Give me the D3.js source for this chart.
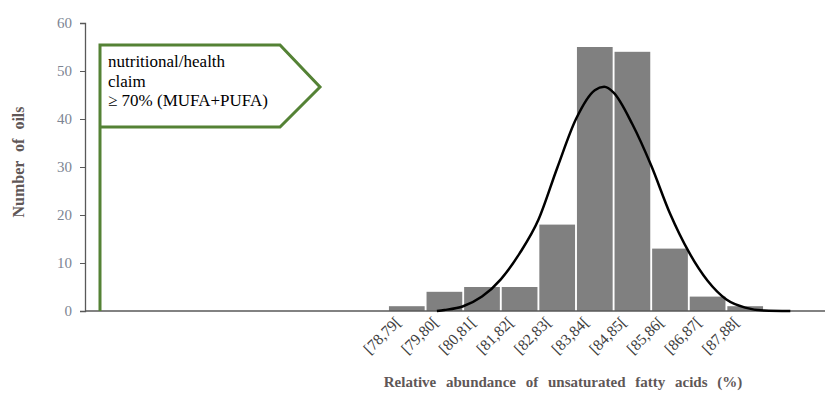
<!DOCTYPE html>
<html><head><meta charset="utf-8">
<script src="https://cdn.jsdelivr.net/npm/d3@7"></script>
<style>
body{margin:0;background:#fff}svg{display:block}
text{font-family:"Times New Roman","Liberation Serif",Tinos,"DejaVu Serif",serif}
</style>
</head><body>
<svg id="c" width="828" height="393"></svg>
<script>
const categories = ["[78,79[","[79,80[","[80,81[","[81,82[","[82,83[","[83,84[","[84,85[","[85,86[","[86,87[","[87,88["];
const counts = [1,4,5,5,18,55,54,13,3,1];
const yTicks = [0,10,20,30,40,50,60];
// fitted normal curve (x in %, y in number of oils)
const curveX = [79.3,79.5,80.0,80.5,81.0,81.5,82.0,82.5,83.0,83.5,83.75,84.0,84.5,85.0,85.5,86.0,86.5,87.0,87.5,88.0,88.7];
const curveY = [0,0.2,1.0,3.0,6.6,12.0,19.0,29.8,40.0,46.0,46.7,45.5,38.9,30.3,20.3,12.3,6.3,2.4,0.7,0.1,0];
const claimLines = ["nutritional/health","claim","\u2265 70% (MUFA+PUFA)"];

const svg = d3.select("#c");
const x = d3.scaleBand().domain(categories).range([388,764]).paddingInner(0.05).paddingOuter(0.025);
const xv = d3.scaleLinear().domain([78,88]).range([388,764]);
const y = d3.scaleLinear().domain([0,60]).range([311,23]);

// bars
svg.append("g").selectAll("rect").data(counts).join("rect")
  .attr("x",(d,i)=>x(categories[i]))
  .attr("width",x.bandwidth())
  .attr("y",d=>y(d))
  .attr("height",d=>y(0)-y(d))
  .attr("fill","#808080");

// y axis
const ya = svg.append("g").attr("transform","translate(85,0)")
  .call(d3.axisLeft(y).tickValues(yTicks).tickSize(5).tickPadding(8));
ya.attr("font-family",null);
ya.select(".domain").attr("stroke","#595959").attr("stroke-width",1.3);
ya.selectAll(".tick line").attr("stroke","#595959");
ya.selectAll(".tick text").attr("font-size",15).attr("fill","#7d8593");

// x axis line
svg.append("line").attr("x1",85).attr("x2",825).attr("y1",y(0)).attr("y2",y(0))
  .attr("stroke","#595959").attr("stroke-width",1.3);

// x labels
svg.append("g").selectAll("text").data(categories).join("text")
  .attr("transform",d=>`translate(${x(d)+x.bandwidth()/2-5},${323}) rotate(-45)`)
  .attr("text-anchor","end")
  .attr("font-size",15.5).attr("fill","#404040")
  .text(d=>d);

// curve
const pts = curveX.map((v,i)=>[xv(v),y(curveY[i])]);
svg.append("path").datum(pts)
  .attr("d",d3.line().curve(d3.curveMonotoneX))
  .attr("fill","none").attr("stroke","#000").attr("stroke-width",2.5);

// green claim arrow
svg.append("path")
  .attr("d","M100,311 V45 H280 L320,87 L280,127 H100")
  .attr("fill","none").attr("stroke","#548235").attr("stroke-width",3).attr("stroke-linejoin","miter");
svg.append("g").selectAll("text").data(claimLines).join("text")
  .attr("x",108).attr("y",(d,i)=>67+i*19.5)
  .attr("font-size",17).attr("fill","#000")
  .text(d=>d);

// axis titles
svg.append("text").attr("transform","translate(24,162) rotate(-90)")
  .attr("text-anchor","middle").attr("font-size",16)
  .attr("font-weight","bold").attr("fill","#5f5757").attr("word-spacing",5)
  .text("Number of oils");
svg.append("text").attr("x",563).attr("y",387)
  .attr("text-anchor","middle").attr("font-size",15)
  .attr("font-weight","bold").attr("fill","#5f5757").attr("word-spacing",6)
  .text("Relative abundance of unsaturated fatty acids (%)");
</script>
</body></html>
